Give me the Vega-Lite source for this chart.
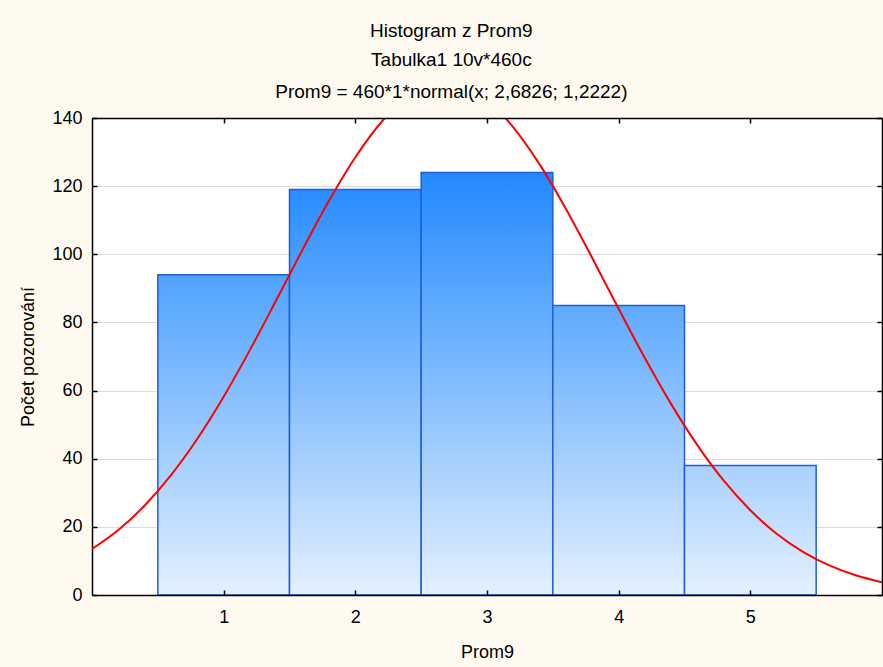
{
  "$schema": "https://vega.github.io/schema/vega-lite/v6.json",
  "width": 790,
  "height": 477,
  "autosize": {"type": "none"},
  "padding": {"left": 92, "top": 118, "right": 1, "bottom": 72},
  "background": "#FEFAF0",
  "config": {
    "view": {"fill": "white", "stroke": null},
    "font": "Liberation Sans",
    "axis": {
      "labelFont": "Liberation Sans",
      "titleFont": "Liberation Sans",
      "labelFontSize": 18,
      "titleFontSize": 18,
      "titleFontWeight": "normal",
      "labelColor": "black",
      "titleColor": "black",
      "domainColor": "black",
      "domainWidth": 1.5,
      "tickColor": "black",
      "tickWidth": 1.5,
      "tickSize": -5
    }
  },
  "title": {
    "text": "Histogram z Prom9",
    "subtitle": ["Tabulka1 10v*460c", "Prom9 = 460*1*normal(x; 2,6826; 1,2222)"],
    "font": "Liberation Sans",
    "subtitleFont": "Liberation Sans",
    "fontSize": 19,
    "subtitleFontSize": 19,
    "fontWeight": "normal",
    "color": "black",
    "subtitleColor": "black",
    "anchor": "middle",
    "frame": "bounds",
    "subtitleLineHeight": 32,
    "subtitlePadding": 10,
    "offset": 7
  },
  "datasets": {
    "bins": [
      {"value": 1, "lo": 0.5, "hi": 1.5, "count": 94},
      {"value": 2, "lo": 1.5, "hi": 2.5, "count": 119},
      {"value": 3, "lo": 2.5, "hi": 3.5, "count": 124},
      {"value": 4, "lo": 3.5, "hi": 4.5, "count": 85},
      {"value": 5, "lo": 4.5, "hi": 5.5, "count": 38}
    ],
    "curve": [
      {"x": 0.0, "y": 13.50}, {"x": 0.2, "y": 19.08}, {"x": 0.4, "y": 26.25},
      {"x": 0.6, "y": 35.16}, {"x": 0.8, "y": 45.85}, {"x": 1.0, "y": 58.20},
      {"x": 1.2, "y": 71.94}, {"x": 1.4, "y": 86.57}, {"x": 1.6, "y": 101.43},
      {"x": 1.8, "y": 115.69}, {"x": 2.0, "y": 128.47}, {"x": 2.2, "y": 138.89},
      {"x": 2.4, "y": 146.19}, {"x": 2.6, "y": 149.81}, {"x": 2.8, "y": 149.46},
      {"x": 3.0, "y": 145.17}, {"x": 3.2, "y": 137.28}, {"x": 3.4, "y": 126.39},
      {"x": 3.6, "y": 113.29}, {"x": 3.8, "y": 98.86}, {"x": 4.0, "y": 83.99},
      {"x": 4.2, "y": 69.47}, {"x": 4.4, "y": 55.95}, {"x": 4.6, "y": 43.86},
      {"x": 4.8, "y": 33.48}, {"x": 5.0, "y": 24.88}, {"x": 5.2, "y": 18.00},
      {"x": 5.4, "y": 12.68}, {"x": 5.6, "y": 8.69}, {"x": 5.8, "y": 5.80},
      {"x": 6.0, "y": 3.77}
    ]
  },
  "resolve": {"axis": {"x": "independent", "y": "independent"}},
  "layer": [
    {
      "data": {"name": "bins"},
      "transform": [{"filter": "datum.value == 1"}],
      "mark": {"type": "bar", "stroke": "#1f5fd6", "strokeWidth": 1.5,
        "fill": {"gradient": "linear", "x1": 0, "x2": 0, "y1": -0.4894, "y2": 1,
          "stops": [{"offset": 0, "color": "#087cff"}, {"offset": 1, "color": "#e4f0fd"}]}},
      "encoding": {
        "x": {"field": "lo", "type": "quantitative", "scale": {"domain": [0, 6], "nice": false, "zero": false},
          "axis": {"orient": "bottom", "title": "Prom9", "values": [1, 2, 3, 4, 5], "grid": false,
            "labelPadding": 18, "titlePadding": 17, "zindex": 1}},
        "x2": {"field": "hi"},
        "y": {"field": "count", "type": "quantitative", "scale": {"domain": [0, 140], "nice": false},
          "axis": {"orient": "left", "title": "Počet pozorování", "values": [0, 20, 40, 60, 80, 100, 120, 140],
            "grid": true, "gridColor": "#dcdcdc", "gridWidth": 1, "labelPadding": 15, "titlePadding": 14, "zindex": 0}},
        "y2": {"datum": 0}
      }
    },
    {
      "data": {"name": "bins"},
      "transform": [{"filter": "datum.value == 2"}],
      "mark": {"type": "bar", "stroke": "#1f5fd6", "strokeWidth": 1.5,
        "fill": {"gradient": "linear", "x1": 0, "x2": 0, "y1": -0.1765, "y2": 1,
          "stops": [{"offset": 0, "color": "#087cff"}, {"offset": 1, "color": "#e4f0fd"}]}},
      "encoding": {
        "x": {"field": "lo", "type": "quantitative",
          "axis": {"orient": "top", "title": null, "labels": false, "values": [1, 2, 3, 4, 5], "grid": false, "zindex": 1}},
        "x2": {"field": "hi"},
        "y": {"field": "count", "type": "quantitative",
          "axis": {"orient": "right", "title": null, "labels": false, "values": [0, 20, 40, 60, 80, 100, 120, 140], "grid": false, "zindex": 1}},
        "y2": {"datum": 0}
      }
    },
    {
      "data": {"name": "bins"},
      "transform": [{"filter": "datum.value == 3"}],
      "mark": {"type": "bar", "stroke": "#1f5fd6", "strokeWidth": 1.5,
        "fill": {"gradient": "linear", "x1": 0, "x2": 0, "y1": -0.1290, "y2": 1,
          "stops": [{"offset": 0, "color": "#087cff"}, {"offset": 1, "color": "#e4f0fd"}]}},
      "encoding": {
        "x": {"field": "lo", "type": "quantitative", "axis": null},
        "x2": {"field": "hi"},
        "y": {"field": "count", "type": "quantitative", "axis": null},
        "y2": {"datum": 0}
      }
    },
    {
      "data": {"name": "bins"},
      "transform": [{"filter": "datum.value == 4"}],
      "mark": {"type": "bar", "stroke": "#1f5fd6", "strokeWidth": 1.5,
        "fill": {"gradient": "linear", "x1": 0, "x2": 0, "y1": -0.6471, "y2": 1,
          "stops": [{"offset": 0, "color": "#087cff"}, {"offset": 1, "color": "#e4f0fd"}]}},
      "encoding": {
        "x": {"field": "lo", "type": "quantitative", "axis": null},
        "x2": {"field": "hi"},
        "y": {"field": "count", "type": "quantitative", "axis": null},
        "y2": {"datum": 0}
      }
    },
    {
      "data": {"name": "bins"},
      "transform": [{"filter": "datum.value == 5"}],
      "mark": {"type": "bar", "stroke": "#1f5fd6", "strokeWidth": 1.5,
        "fill": {"gradient": "linear", "x1": 0, "x2": 0, "y1": -2.6842, "y2": 1,
          "stops": [{"offset": 0, "color": "#087cff"}, {"offset": 1, "color": "#e4f0fd"}]}},
      "encoding": {
        "x": {"field": "lo", "type": "quantitative", "axis": null},
        "x2": {"field": "hi"},
        "y": {"field": "count", "type": "quantitative", "axis": null},
        "y2": {"datum": 0}
      }
    },
    {
      "data": {"name": "curve"},
      "mark": {"type": "line", "color": "#ff0000", "strokeWidth": 2, "clip": true, "interpolate": "monotone"},
      "encoding": {
        "x": {"field": "x", "type": "quantitative", "axis": null},
        "y": {"field": "y", "type": "quantitative", "axis": null}
      }
    }
  ]
}
